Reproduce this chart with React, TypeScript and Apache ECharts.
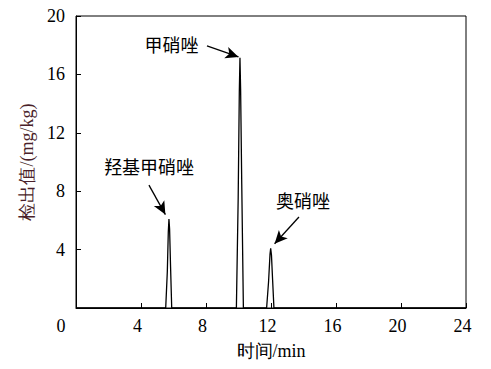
import React, { useEffect, useRef } from "react";
import * as echarts from "echarts";

const timeMin = [0, 5.52, 5.62, 5.68, 5.72, 5.76, 5.82, 5.89, 9.87, 9.98, 10.05, 10.09, 10.13, 10.2, 10.3, 11.73, 11.85, 11.94, 11.98, 12.03, 12.1, 12.18, 24];
const detected = [0, 0, 2.5, 5.2, 6.1, 5.4, 2.8, 0, 0, 7.5, 14.8, 17.14, 15.0, 8.5, 0, 0, 1.8, 3.7, 4.09, 3.6, 1.9, 0, 0];

const peakNames = ["羟基甲硝唑", "甲硝唑", "奥硝唑"];
const labelPos: [number, number][] = [[4.5, 9.75], [5.88, 18.08], [13.97, 7.4]];
const arrowFrom: [number, number][] = [[4.49, 8.42], [8.06, 17.95], [13.72, 6.23]];
const arrowTo: [number, number][] = [[5.5, 6.4], [10.0, 17.2], [12.22, 4.4]];

const xTicks = [0, 4, 8, 12, 16, 20, 24];
const yTicks = [0, 4, 8, 12, 16, 20];

const serif = "Liberation Serif";
const cjk = "Noto Sans CJK SC";

export default function App() {
  const ref = useRef<HTMLDivElement>(null);
  useEffect(() => {
    if (!ref.current) return;
    const chart = echarts.init(ref.current, undefined, { renderer: "svg" });
    const lineData = timeMin.map((t, i) => [t, detected[i]]);
    chart.setOption({
      animation: false,
      backgroundColor: "#fff",
      grid: { left: 76, right: 25, top: 16, bottom: 61, show: true, borderColor: "#000", borderWidth: 1, backgroundColor: "transparent" },
      xAxis: {
        type: "value",
        min: xTicks[0],
        max: xTicks[xTicks.length - 1],
        interval: 4,
        name: "时间/min",
        nameLocation: "middle",
        nameGap: 34,
        nameTextStyle: { fontFamily: serif, fontSize: 18, color: "#000" },
        axisLine: { lineStyle: { color: "#000", width: 1 } },
        axisTick: { inside: true, length: 5, lineStyle: { color: "#000" } },
        splitLine: { show: false },
        axisLabel: {
          margin: 9,
          fontFamily: serif,
          fontSize: 18,
          color: "#000",
          formatter: (v: number) => (v === 0 ? "{z|0}" : "{n|" + v + "}"),
          rich: {
            z: { fontFamily: serif, fontSize: 18, color: "#000", padding: [0, 30, 0, 0] },
            n: { fontFamily: serif, fontSize: 18, color: "#000", padding: [0, 7, 0, 0] },
          },
        },
      },
      yAxis: {
        type: "value",
        min: yTicks[0],
        max: yTicks[yTicks.length - 1],
        interval: 4,
        name: "检出值/(mg/kg)",
        nameLocation: "middle",
        nameGap: 38,
        nameTextStyle: { fontFamily: serif, fontSize: 18, color: "#4a1f2a" },
        axisLine: { lineStyle: { color: "#000", width: 1 } },
        axisTick: { inside: true, length: 5, lineStyle: { color: "#000" } },
        splitLine: { show: false },
        axisLabel: {
          margin: 11,
          fontFamily: serif,
          fontSize: 18,
          color: "#000",
          formatter: (v: number) => (v === 0 ? "" : String(v)),
        },
      },
      series: [
        {
          type: "line",
          data: lineData,
          showSymbol: false,
          symbol: "none",
          lineStyle: { color: "#000", width: 1.3 },
          markLine: {
            silent: true,
            symbol: ["none", "arrow"],
            symbolSize: [9, 13],
            lineStyle: { color: "#000", width: 1.3, type: "solid" },
            label: { show: false },
            data: arrowFrom.map((f, i) => [
              { coord: f, symbol: "none" },
              { coord: arrowTo[i], symbol: "arrow" },
            ]),
          },
          markPoint: {
            silent: true,
            symbol: "circle",
            symbolSize: 1,
            itemStyle: { color: "rgba(0,0,0,0)" },
            label: {
              show: true,
              position: "inside",
              fontFamily: cjk,
              fontSize: 18,
              color: "#000",
              formatter: (p: any) => p.name,
            },
            data: peakNames.map((n, i) => ({ name: n, coord: labelPos[i] })),
          },
        },
      ],
    });
    return () => chart.dispose();
  }, []);
  return <div ref={ref} style={{ position: "fixed", left: 0, top: 0, width: 491, height: 369 }} />;
}
